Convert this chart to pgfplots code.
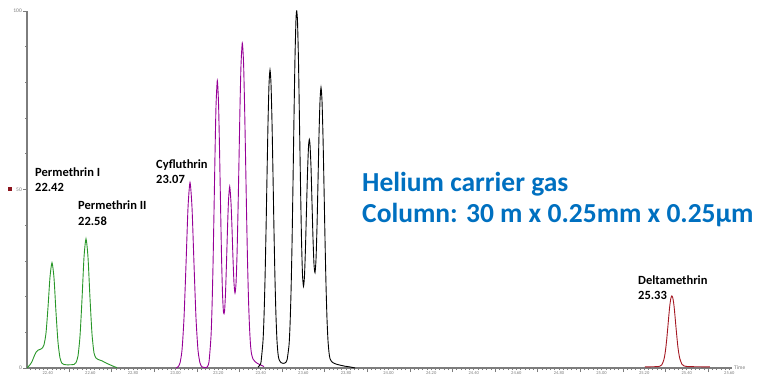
\documentclass[border=0pt]{standalone}
\usepackage{pgfplots}
\pgfplotsset{compat=1.18}
\usepackage{fontspec}
\setmainfont{Carlito}
\definecolor{pgreen}{RGB}{40,150,40}
\definecolor{ppurple}{RGB}{150,0,150}
\definecolor{pred}{RGB}{165,25,35}
\definecolor{hblue}{RGB}{0,112,192}
\definecolor{axgray}{RGB}{125,125,125}
\begin{document}
\begin{tikzpicture}[x=1pt,y=1pt]
\path (0,0) rectangle (760,374);
\begin{axis}[
  at={(27pt,6pt)}, anchor=south west,
  scale only axis, width=705pt, height=357pt,
  xmin=22.3026, xmax=25.6124, ymin=0, ymax=100,
  axis x line*=bottom, axis y line*=left,
  axis line style={axgray, line width=1.1pt},
  tick align=outside,
  tick style={axgray, line width=0.6pt},
  major tick length=4pt, minor tick length=2pt,
  xtick={22.5,22.7,22.9,23.1,23.3,23.5,23.7,23.9,24.1,24.3,24.5,24.7,24.9,25.1,25.3,25.5},
  xticklabels={},
  extra x ticks={22.4,22.6,22.8,23.0,23.2,23.4,23.6,23.8,24.0,24.2,24.4,24.6,24.8,25.0,25.2,25.4,25.6},
  extra x tick style={major tick length=2.2pt,
    xticklabel style={font=\fontsize{4.5}{5}\selectfont, text=axgray, inner sep=1pt},
    /pgf/number format/.cd, fixed, fixed zerofill, precision=2, assume math mode=true},
  minor xtick={22.32,22.34,...,25.61},
  ytick={0,50,100},
  minor ytick={10,20,30,40,60,70,80,90},
  yticklabel style={font=\fontsize{5.5}{6}\selectfont, text=axgray, inner sep=1pt},
  /pgf/number format/assume math mode=true,
  every axis plot/.append style={line width=0.9pt, smooth, tension=0.4},
]
% Permethrin I and II
\addplot[pgreen] coordinates {
(22.3026,0) (22.3073,0.3) (22.3167,0.9) (22.3261,1.8) (22.3355,3.2) (22.3449,4.4)
(22.3543,5.0) (22.3637,5.2) (22.3730,5.5) (22.3824,6.5) (22.3918,9.8) (22.4012,17)
(22.4106,25.5) (22.4200,29.5) (22.4294,25.2) (22.4388,15.5) (22.4482,7.2) (22.4576,2.8)
(22.4670,1.3) (22.4763,1.0) (22.4857,0.9) (22.5045,0.9) (22.5233,1.0) (22.5327,1.5)
(22.5421,3.4) (22.5515,9.0) (22.5609,19.3) (22.5702,31) (22.5796,36.2) (22.5890,31)
(22.5984,19.5) (22.6078,9.5) (22.6172,4.2) (22.6266,2.8) (22.6360,2.4) (22.6548,2.0)
(22.6735,1.4) (22.6923,0.9) (22.7111,0.4) (22.7252,0.1)
};
% Cyfluthrin
\addplot[ppurple] coordinates {
(23.0022,0) (23.0115,0.3) (23.0209,1.4) (23.0303,5.0) (23.0397,14) (23.0491,29)
(23.0585,44.9) (23.0679,52) (23.0773,44.9) (23.0867,29) (23.0960,14) (23.1054,5.0)
(23.1148,1.4) (23.1242,0.3) (23.1383,0.1) (23.1477,0.2) (23.1571,1.75) (23.1665,8.9)
(23.1712,16.9) (23.1759,28.8) (23.1806,44) (23.1853,60) (23.1899,73.3) (23.1961,80.5)
(23.2017,74.3) (23.2064,61.5) (23.2111,46.1) (23.2158,31.4) (23.2205,20.8) (23.2252,15.5)
(23.2299,15.8) (23.2345,20.9) (23.2392,29.5) (23.2439,39) (23.2486,46.9) (23.2543,50.8)
(23.2604,46.2) (23.2651,39.0) (23.2698,30.4) (23.2745,23.7) (23.2791,21.0) (23.2838,23.6)
(23.2885,31.5) (23.2932,43.9) (23.2979,58.3) (23.3026,73.3) (23.3073,84.9) (23.3134,91)
(23.3191,85.8) (23.3237,74.6) (23.3284,59.9) (23.3331,44.3) (23.3378,30.2) (23.3425,19.2)
(23.3472,11.5) (23.3519,6.5) (23.3566,4.0) (23.3637,2.5) (23.3730,1.8) (23.3871,1.2)
(23.4012,0.8) (23.4153,0.4)
};
% unresolved group
\addplot[black] coordinates {
(23.3871,0.2) (23.3965,0.9) (23.4012,1.6) (23.4106,7.6) (23.4153,14.4) (23.4200,24.7)
(23.4247,38.3) (23.4294,53.8) (23.4341,68.7) (23.4388,79.5) (23.4435,83.5) (23.4482,79.5)
(23.4529,68.7) (23.4576,53.8) (23.4622,38.3) (23.4669,24.7) (23.4716,14.4) (23.4763,7.6)
(23.4810,4.0) (23.4857,2.4) (23.4951,1.5) (23.5045,1.3) (23.5139,1.4) (23.5233,2.2)
(23.5327,6.4) (23.5374,11.9) (23.5421,21.2) (23.5468,34.6) (23.5514,51.8) (23.5561,70.4)
(23.5608,87.1) (23.5655,97.8) (23.5688,100) (23.5726,97) (23.5773,85.5) (23.5820,68.3)
(23.5867,51.1) (23.5914,35.8) (23.5960,26.1) (23.6007,22.9) (23.6054,25.9) (23.6101,33.9)
(23.6148,44.5) (23.6195,54.7) (23.6242,62) (23.6280,64) (23.6313,62.5) (23.6360,56.2)
(23.6406,46.3) (23.6453,36.3) (23.6500,29.0) (23.6547,26.7) (23.6594,30.4) (23.6641,39.6)
(23.6688,52.3) (23.6735,65.4) (23.6782,74.8) (23.6829,78.6) (23.6876,74.8) (23.6923,64.7)
(23.6970,50.7) (23.7017,36) (23.7064,23.2) (23.7111,13.6) (23.7158,7.6) (23.7205,4.3)
(23.7252,2.6) (23.7345,1.7) (23.7486,1.2) (23.7721,0.8) (23.7956,0.5) (23.8191,0.3)
(23.8425,0)
};
% Deltamethrin
\addplot[pred] coordinates {
(25.2032,0.3) (25.2408,0.35) (25.2643,0.4) (25.2737,0.5) (25.2831,0.9) (25.2924,2.3)
(25.2971,3.7) (25.3018,5.7) (25.3065,8.4) (25.3112,11.5) (25.3159,14.7) (25.3206,17.6)
(25.3253,19.5) (25.3300,20.2) (25.3347,19.6) (25.3394,17.8) (25.3441,15.0) (25.3488,11.8)
(25.3535,8.8) (25.3582,6.0) (25.3629,4.0) (25.3676,2.6) (25.3769,1.1) (25.3863,0.6)
(25.4051,0.4) (25.4521,0.35) (25.5085,0.3)
};
\end{axis}
\fill[pred!85!black] (8.3,182.5) rectangle (12.3,186.5);
\node[anchor=west, font=\fontsize{5.5}{6}\selectfont, text=axgray, inner sep=0] at (734,6) {Time};
\begin{scope}[every node/.style={anchor=base west, inner sep=0, font=\bfseries\fontsize{12.5}{14}\selectfont}]
\node at (35,197) {Permethrin I};
\node at (35,182.5) {22.42};
\node at (78,164) {Permethrin II};
\node at (78,148) {22.58};
\node at (156,205.5) {Cyfluthrin};
\node at (156,190) {23.07};
\node at (638,89) {Deltamethrin};
\node at (638,74) {25.33};
\end{scope}
\begin{scope}[every node/.style={anchor=base west, inner sep=0, text=hblue, font=\bfseries\fontsize{27.5}{30}\selectfont}]
\node at (362,182) {Helium carrier gas};
\node at (362,151) {Column: 30 m x 0.25mm x 0.25µm};
\end{scope}
\end{tikzpicture}
\end{document}
